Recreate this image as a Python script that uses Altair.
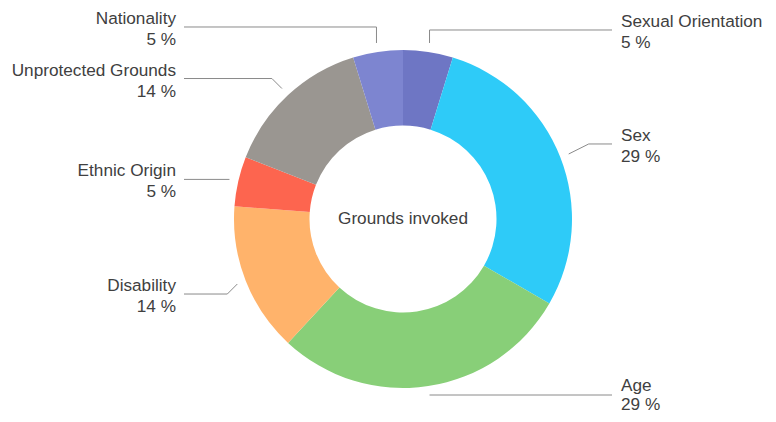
import math
import altair as alt
import pandas as pd

# ---- data ----
categories = ["Sexual Orientation", "Sex", "Age", "Disability",
              "Ethnic Origin", "Unprotected Grounds", "Nationality"]
counts = [1, 6, 6, 3, 1, 3, 1]          # gives 5 %, 29 %, 29 %, 14 %, 5 %, 14 %, 5 %
colors = ["#6e76c4", "#2ecbf8", "#88cf78", "#ffb36b",
          "#fd654f", "#9a9691", "#7d85d0"]
center_title = "Grounds invoked"

# ---- layout ----
W, H = 760, 406
CX, CY = 395, 211
R_OUT, R_IN = 169, 93.5
R_LEAD = 178
# callout elbow offsets (label placement, relative to leader start)
elbow_dx = [0, 20, 0, -10, 0, -10, 0]
elbow_dy = [-13, -10, 0, 10, 0, -10, -16]
RIGHT_LINE_END, LEFT_LINE_END = 209, -219
RIGHT_TEXT, LEFT_TEXT = 218, -227

total = sum(counts)
pcts = [round(100 * c / total) for c in counts]

arc_df = pd.DataFrame({"cat": categories, "count": counts,
                       "ord": list(range(len(categories)))})

line_rows, label_rows = [], []
cum = 0
for i, (c, v) in enumerate(zip(categories, counts)):
    mid = (cum + v / 2) / total * 2 * math.pi
    cum += v
    s, co = math.sin(mid), math.cos(mid)
    sx, sy = CX + R_LEAD * s, CY - R_LEAD * co
    ex, ey = sx + elbow_dx[i], sy + elbow_dy[i]
    right = s > 0
    endx = CX + (RIGHT_LINE_END if right else LEFT_LINE_END)
    for j, (px, py) in enumerate([(sx, sy), (ex, ey), (endx, ey)]):
        line_rows.append({"cat": c, "idx": j, "px": px, "py": py})
    y2 = min(ey + 18, H - 4)
    y1 = min(ey - 3, y2 - 19)
    label_rows.append({"cat": c, "pct": f"{pcts[i]} %",
                       "tx": CX + (RIGHT_TEXT if right else LEFT_TEXT),
                       "y1": y1, "y2": y2,
                       "side": "right" if right else "left"})

lines_df = pd.DataFrame(line_rows)
labels_df = pd.DataFrame(label_rows)

xs = alt.Scale(domain=[0, W], range=[0, W], nice=False, zero=False)
ys = alt.Scale(domain=[0, H], range=[0, H], nice=False, zero=False)

arcs = alt.Chart(arc_df).mark_arc(radius=R_OUT, radius2=R_IN).encode(
    theta=alt.Theta("count:Q", stack=True),
    order=alt.Order("ord:Q"),
    color=alt.Color("cat:N", scale=alt.Scale(domain=categories, range=colors), legend=None),
    x=alt.value(CX),
    y=alt.value(CY),
)

leaders = alt.Chart(lines_df).mark_line(color="#8a8a8a", strokeWidth=1).encode(
    x=alt.X("px:Q", scale=xs, axis=None),
    y=alt.Y("py:Q", scale=ys, axis=None),
    detail="cat:N",
    order="idx:Q",
)

font = "Liberation Sans"
txt_color = "#404040"
FS = 17.2

def label_layer(side, align):
    d = labels_df[labels_df["side"] == side]
    base = alt.Chart(d)
    name = base.mark_text(align=align, baseline="alphabetic", font=font,
                          fontSize=FS, color=txt_color).encode(
        x=alt.X("tx:Q", scale=xs, axis=None),
        y=alt.Y("y1:Q", scale=ys, axis=None),
        text="cat:N")
    pct = base.mark_text(align=align, baseline="alphabetic", font=font,
                         fontSize=FS, color=txt_color).encode(
        x=alt.X("tx:Q", scale=xs, axis=None),
        y=alt.Y("y2:Q", scale=ys, axis=None),
        text="pct:N")
    return name + pct

center = alt.Chart(pd.DataFrame({"t": [center_title]})).mark_text(
    align="center", baseline="middle", font=font, fontSize=FS, color=txt_color
).encode(x=alt.value(CX), y=alt.value(CY), text="t:N")

chart = alt.layer(
    arcs, leaders, label_layer("left", "right"), label_layer("right", "left"), center
).properties(
    width=W, height=H, padding=0, autosize=alt.AutoSizeParams(type="none")
).configure_view(stroke=None)

chart.save("out.html", embed_options={"renderer": "svg", "actions": False})
